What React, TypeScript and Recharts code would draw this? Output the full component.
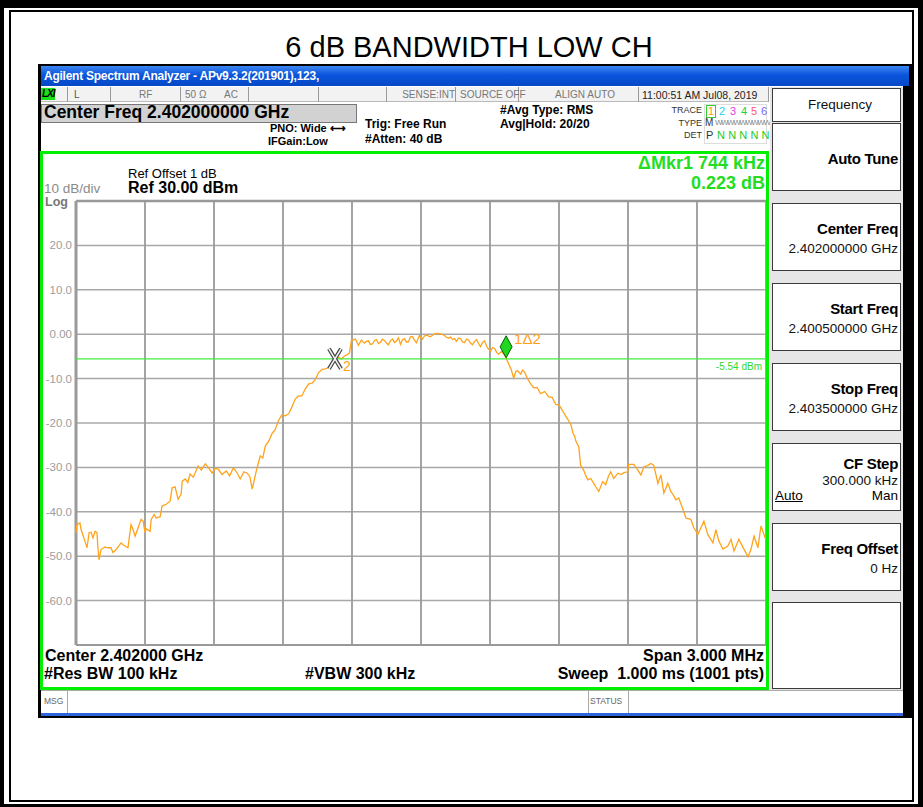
import React from 'react';
import { LineChart, Line, XAxis, YAxis, CartesianGrid, ReferenceLine, ReferenceDot } from 'recharts';

// trace: offset from start freq (kHz) and level (dBm)
const freqKHz = [
  0, 4, 17, 22, 39, 48, 57, 65, 74, 83, 91, 96, 100, 109, 126, 139, 152, 161, 174, 196,
  205, 213, 226, 239, 248, 257, 270, 283, 292, 300, 305, 322, 327, 340, 348, 366, 374, 392, 409, 418,
  431, 435, 444, 457, 462, 475, 486, 496, 510, 531, 545, 562, 575, 592, 605, 618, 635, 653, 668, 684,
  700, 714, 730, 745, 756, 766, 784, 801, 812, 823, 838, 853, 866, 880, 895, 910, 925, 940, 953, 967,
  982, 997, 1012, 1028, 1041, 1054, 1070, 1084, 1100, 1115, 1126, 1141, 1154, 1167, 1180, 1189, 1197, 1206, 1215, 1228,
  1241, 1254, 1263, 1271, 1280, 1289, 1298, 1306, 1315, 1324, 1332, 1341, 1350, 1358, 1367, 1376, 1385, 1393, 1402, 1411,
  1420, 1428, 1437, 1446, 1454, 1463, 1472, 1480, 1493, 1506, 1515, 1524, 1541, 1559, 1572, 1585, 1602, 1611, 1620, 1628,
  1637, 1646, 1654, 1663, 1672, 1680, 1689, 1698, 1707, 1715, 1724, 1733, 1742, 1750, 1759, 1767, 1776, 1789, 1803, 1811,
  1820, 1829, 1837, 1850, 1859, 1870, 1881, 1892, 1903, 1912, 1920, 1933, 1942, 1951, 1964, 1977, 1990, 2005, 2020, 2038,
  2055, 2070, 2086, 2100, 2116, 2130, 2142, 2152, 2160, 2168, 2173, 2186, 2194, 2207, 2216, 2225, 2238, 2251, 2259, 2273,
  2290, 2303, 2315, 2325, 2338, 2356, 2370, 2382, 2399, 2403, 2425, 2440, 2456, 2469, 2485, 2499, 2512, 2530, 2543, 2556,
  2573, 2586, 2598, 2608, 2621, 2639, 2652, 2673, 2686, 2704, 2717, 2730, 2747, 2769, 2782, 2795, 2813, 2834, 2848, 2861,
  2882, 2904, 2922, 2935, 2948, 2965, 2978, 2996, 3000,
];
const levelDb = [
  -44.7, -42.9, -42.5, -44.0, -46.6, -48.1, -44.7, -44.6, -45.9, -44.4, -44.7, -48.5, -50.8, -48.5, -47.9, -48.1, -48.1, -49.2, -48.5, -47.0,
  -47.4, -47.7, -48.1, -42.9, -44.0, -45.5, -43.6, -41.7, -42.1, -44.7, -43.8, -44.4, -41.7, -40.6, -41.4, -41.1, -38.7, -38.3, -37.6, -34.6,
  -34.4, -35.3, -37.2, -36.0, -33.1, -32.6, -33.4, -31.5, -32.2, -29.7, -30.6, -29.2, -30.0, -31.3, -30.2, -30.4, -31.6, -30.8, -31.9, -30.1,
  -31.2, -32.6, -31.0, -31.3, -32.1, -34.9, -30.8, -27.4, -27.9, -25.2, -24.1, -22.3, -21.5, -19.5, -18.2, -18.4, -17.9, -16.2, -14.6, -13.9,
  -13.9, -12.3, -11.2, -11.0, -10.2, -8.7, -7.9, -7.8, -7.5, -6.7, -5.5, -5.2, -5.6, -4.9, -4.6, -4.2, -1.5, -1.3, -1.1, -2.5,
  -1.3, -2.0, -1.6, -1.5, -2.3, -2.2, -1.4, -1.2, -2.1, -1.8, -1.1, -1.4, -2.0, -2.4, -1.5, -1.1, -1.9, -1.6, -0.8, -2.3,
  -1.2, -1.0, -1.8, -1.7, -0.6, -0.5, -1.4, -1.9, -0.3, -1.1, -0.4, -0.2, -0.6, 0.1, 0.2, 0.1, -0.3, -0.7, -0.9, -0.6,
  -1.2, -1.0, -1.6, -0.9, -1.0, -1.7, -1.9, -1.1, -1.3, -2.0, -2.4, -1.6, -1.2, -2.1, -2.8, -1.9, -1.5, -3.1, -3.8, -3.0,
  -3.2, -4.1, -4.5, -3.9, -4.4, -5.3, -6.7, -7.9, -9.9, -8.4, -8.2, -9.0, -8.1, -8.6, -10.1, -11.2, -12.1, -12.0, -13.4, -12.9,
  -14.1, -14.2, -15.8, -15.9, -17.3, -18.5, -19.5, -20.4, -22.2, -23.0, -24.0, -25.4, -29.5, -30.6, -31.8, -32.8, -32.5, -33.6, -34.3, -35.4,
  -33.2, -33.9, -32.0, -31.0, -32.5, -31.3, -31.6, -31.2, -31.0, -29.3, -29.3, -30.4, -31.7, -29.9, -29.6, -29.1, -29.5, -33.6, -31.7, -35.8,
  -33.6, -35.4, -36.3, -37.3, -36.9, -39.5, -41.4, -41.7, -43.6, -45.1, -43.6, -42.1, -45.1, -47.0, -44.0, -46.6, -48.4, -47.7, -46.2, -48.8,
  -46.2, -48.4, -50.1, -48.4, -45.5, -48.1, -43.2, -45.8, -46.5,
];

const yTicks = [30, 20, 10, 0, -10, -20, -30, -40, -50, -60, -70];
const xTicks = [0, 300, 600, 900, 1200, 1500, 1800, 2100, 2400, 2700, 3000];
const displayLineDb = -5.54;
const marker2 = { f: 1126, db: -5.54 };
const marker1 = { f: 1870, db: -5.32 };

const softkeyTitles = ['Auto Tune', 'Center Freq', 'Start Freq', 'Stop Freq', 'CF Step', 'Freq Offset'];
const softkeyValues = ['', '2.402000000 GHz', '2.400500000 GHz', '2.403500000 GHz', '300.000 kHz', '0 Hz'];

const trace = freqKHz.map((f, i) => ({ f, db: levelDb[i] }));

const W = 923;
const H = 807;
const FONT = '"Liberation Sans", Arial, sans-serif';

function T({ x, y, s = 12, b = false, c = '#000', a = 'left', children, style }: any) {
  const st: React.CSSProperties = {
    position: 'absolute',
    top: y - 0.49 * s,
    fontSize: s,
    fontWeight: b ? 700 : 400,
    color: c,
    lineHeight: 1,
    whiteSpace: 'pre',
    fontFamily: FONT,
    ...style,
  };
  if (a === 'right') st.right = W - x;
  else if (a === 'center') {
    st.left = x;
    st.transform = 'translateX(-50%)';
  } else st.left = x;
  return <div style={st}>{children}</div>;
}

const fmtTick = (v: number) => {
  if (v === 30 || v === -70) return '';
  if (v === 0) return '0.00';
  return v.toFixed(1);
};

const XMark = ({ cx, cy }: any) => {
  const d = `M${cx - 6},${cy - 10} L${cx + 6},${cy + 10} M${cx + 6},${cy - 10} L${cx - 6},${cy + 10}`;
  return (
    <g>
      <path d={d} stroke="#444" strokeWidth={4} fill="none" />
      <path d={d} stroke="#f4f4f4" strokeWidth={1.6} fill="none" />
      <text x={cx + 8} y={cy + 12} fill="#ff9f1a" fontSize={14} fontFamily={FONT}>2</text>
    </g>
  );
};

const DiamondMark = ({ cx, cy }: any) => (
  <g>
    <path
      d={`M${cx},${cy} L${cx - 6},${cy - 11} L${cx},${cy - 22} L${cx + 6},${cy - 11} Z`}
      fill="#1fd81f"
      stroke="#0b5e0b"
      strokeWidth={1}
    />
    <text x={cx + 8} y={cy - 14} fill="#ff9f1a" fontSize={15} fontFamily={FONT}>1Δ2</text>
  </g>
);

function Softkey({ top, height, children }: any) {
  return (
    <div
      style={{
        position: 'absolute',
        left: 772,
        top,
        width: 129,
        height,
        background: '#fff',
        border: '1.5px solid #3a3a3a',
        boxSizing: 'border-box',
      }}
    >
      {children}
    </div>
  );
}

export default function App() {
  const cell = (l: number, r: number) => (
    <div style={{ position: 'absolute', left: l, top: 87, width: r - l, height: 15, borderRight: '1px solid #9a9a9a', boxSizing: 'border-box' }} />
  );
  return (
    <div style={{ position: 'absolute', left: 0, top: 0, width: W, height: H, background: '#fff', overflow: 'hidden', fontFamily: FONT }}>
      {/* outer frame */}
      <div style={{ position: 'absolute', left: 0, top: 0, width: W, height: H, borderStyle: 'solid', borderColor: '#000', borderWidth: '8px 5px 3px 4px', boxSizing: 'border-box' }} />
      <div style={{ position: 'absolute', left: 9, top: 10, right: 9, bottom: 5, border: '2px solid #000' }} />

      <T x={469} y={47} s={29} a="center">6 dB BANDWIDTH LOW CH</T>

      {/* analyzer window */}
      <div style={{ position: 'absolute', left: 38, top: 64, width: 874, height: 654, background: '#000' }} />
      <div style={{ position: 'absolute', left: 41, top: 86, width: 862, height: 630, background: '#fff' }} />
      <div style={{ position: 'absolute', left: 41, top: 66, width: 868, height: 20, background: 'linear-gradient(#3d86f2, #0a55dc 45%, #0648c6)' }} />
      <T x={44} y={76} s={12} b c="#fff" style={{ letterSpacing: -0.25 }}>Agilent Spectrum Analyzer - APv9.3.2(201901),123,</T>

      {/* status row */}
      <div style={{ position: 'absolute', left: 41, top: 87, width: 728, height: 15, background: '#f2f2f2', borderBottom: '1px solid #bbb', boxSizing: 'border-box' }} />
      {cell(41, 68)}
      {cell(68, 111)}
      {cell(111, 181)}
      {cell(181, 249)}
      {cell(249, 319)}
      {cell(319, 387)}
      {cell(387, 456)}
      {cell(456, 519)}
      {cell(519, 639)}
      {cell(639, 769)}
      <div style={{ position: 'absolute', left: 41, top: 88, width: 14, height: 12, background: '#19e019' }} />
      <T x={42} y={94} s={10} b style={{ fontStyle: 'italic', letterSpacing: -1 }}>LXI</T>
      <T x={74} y={95} s={10} c="#555">L</T>
      <T x={139} y={95} s={10} c="#777">RF</T>
      <T x={185} y={95} s={10} c="#777">50 Ω</T>
      <T x={224} y={95} s={10} c="#777">AC</T>
      <T x={455} y={95} s={10} c="#777" a="right">SENSE:INT</T>
      <T x={460} y={95} s={10} c="#777">SOURCE OFF</T>
      <T x={585} y={95} s={10} c="#777" a="center">ALIGN AUTO</T>
      <T x={642} y={95} s={10.5} c="#222">11:00:51 AM Jul08, 2019</T>

      {/* settings */}
      <div style={{ position: 'absolute', left: 41, top: 104, width: 316, height: 19, background: '#d2d2d2', border: '1px solid #777', boxSizing: 'border-box' }} />
      <T x={44} y={113} s={17.5} b>Center Freq 2.402000000 GHz</T>
      <T x={270} y={128} s={11} b>PNO: Wide ⟷</T>
      <T x={268} y={141} s={11} b>IFGain:Low</T>
      <T x={365} y={124} s={12} b>Trig: Free Run</T>
      <T x={365} y={139} s={12} b>#Atten: 40 dB</T>
      <T x={500} y={110} s={12} b>#Avg Type: RMS</T>
      <T x={500} y={124} s={12} b>Avg|Hold: 20/20</T>

      <div style={{ position: 'absolute', left: 704, top: 104, width: 63, height: 40, border: '1px solid #ddd', boxSizing: 'border-box' }} />
      <div style={{ position: 'absolute', left: 706, top: 105, width: 10, height: 13, border: '1px solid #3c3', boxSizing: 'border-box' }} />
      <T x={702} y={110} s={9} c="#333" a="right">TRACE</T>
      <T x={708} y={111} s={11} c="#ff9900">1</T>
      <T x={719} y={111} s={11} c="#22d3ee">2</T>
      <T x={730} y={111} s={11} c="#e040e0">3</T>
      <T x={741} y={111} s={11} c="#22cc44">4</T>
      <T x={751} y={111} s={11} c="#ff5577">5</T>
      <T x={761} y={111} s={11} c="#7766ff">6</T>
      <T x={702} y={123} s={9} c="#333" a="right">TYPE</T>
      <T x={705} y={123} s={10} c="#333">M</T>
      <T x={715} y={123} s={8} c="#888" style={{ letterSpacing: -1.5 }}>WWWWWWWWW</T>
      <T x={702} y={135} s={9} c="#333" a="right">DET</T>
      <T x={706} y={135} s={11} c="#333">P</T>
      <T x={717} y={135} s={11} c="#22cc22" style={{ letterSpacing: 3.2 }}>NNNNN</T>

      {/* graticule chart */}
      <div style={{ position: 'absolute', left: 40, top: 191 }}>
        <LineChart width={728} height={464} data={trace} margin={{ top: 10, right: 2, bottom: 10, left: 0 }}>
          <CartesianGrid stroke="#a8a8a8" strokeWidth={1.5} vertical={false} />
          <XAxis
            type="number"
            dataKey="f"
            domain={[0, 3000]}
            ticks={xTicks}
            tick={false}
            axisLine={false}
            tickLine={false}
            height={0}
          />
          <YAxis
            type="number"
            domain={[-70, 30]}
            ticks={yTicks}
            interval={0}
            width={36}
            tickSize={0}
            tickMargin={4}
            axisLine={false}
            tickFormatter={fmtTick}
            tick={{ fill: '#9c9c9c', fontSize: 11.5, fontFamily: FONT }}
          />
          {xTicks.map((t) => (
            <ReferenceLine key={t} x={t} stroke="#9a9a9a" strokeWidth={t === 0 ? 3 : 1.8} />
          ))}
          <ReferenceLine y={30} stroke="#999" strokeWidth={2.5} />
          <ReferenceLine y={-70} stroke="#999" strokeWidth={2} />
          <Line type="linear" dataKey="db" stroke="#ffa31a" strokeWidth={1.3} dot={false} isAnimationActive={false} />
          <ReferenceLine
            y={displayLineDb}
            stroke="#40ee40"
            strokeWidth={1.2}
            label={{ value: '-5.54 dBm', position: 'insideTopRight', fill: '#2fd82f', fontSize: 10, fontFamily: FONT, offset: 4 }}
          />
          <ReferenceDot x={marker2.f} y={marker2.db} shape={XMark} />
          <ReferenceDot x={marker1.f} y={marker1.db} shape={DiamondMark} />
        </LineChart>
      </div>

      {/* graticule frame */}
      <div style={{ position: 'absolute', left: 40, top: 151, width: 729, height: 539, border: '3px solid #00f000', boxSizing: 'border-box', pointerEvents: 'none' }} />
      <T x={128} y={173} s={13}>Ref Offset 1 dB</T>
      <T x={128} y={188} s={16} b>Ref 30.00 dBm</T>
      <T x={44} y={189} s={13.5} c="#8a8a8a">10 dB/div</T>
      <T x={45} y={202} s={12.5} c="#777" b>Log</T>
      <T x={765} y={163} s={18} b c="#22dd22" a="right">ΔMkr1 744 kHz</T>
      <T x={765} y={183} s={18} b c="#22dd22" a="right">0.223 dB</T>

      <T x={45} y={656} s={16} b>Center 2.402000 GHz</T>
      <T x={44} y={674} s={16} b>#Res BW 100 kHz</T>
      <T x={305} y={674} s={16} b>#VBW 300 kHz</T>
      <T x={764} y={656} s={16} b a="right">Span 3.000 MHz</T>
      <T x={764} y={674} s={16} b a="right">Sweep  1.000 ms (1001 pts)</T>

      {/* message bar */}
      <div style={{ position: 'absolute', left: 41, top: 690, width: 862, height: 23, background: '#fff', borderTop: '1px solid #aaa', boxSizing: 'border-box' }} />
      <div style={{ position: 'absolute', left: 67, top: 690, width: 1, height: 23, background: '#aaa' }} />
      <div style={{ position: 'absolute', left: 588, top: 690, width: 1, height: 23, background: '#aaa' }} />
      <div style={{ position: 'absolute', left: 628, top: 690, width: 1, height: 23, background: '#aaa' }} />
      <T x={44} y={701} s={8.5} c="#666">MSG</T>
      <T x={590} y={701} s={8.5} c="#666">STATUS</T>
      <div style={{ position: 'absolute', left: 41, top: 713, width: 862, height: 3, background: '#2d66d8' }} />

      {/* softkey panel */}
      <div style={{ position: 'absolute', left: 770, top: 87, width: 133, height: 603, background: '#e6e6e6' }} />
      <Softkey top={88} height={34}>
        <T x={67} y={16} s={13.5} a="center" c="#111" style={{ position: 'absolute' }}>
          Frequency
        </T>
      </Softkey>
      {softkeyTitles.map((title, i) => {
        const top = 123 + i * 80;
        const single = softkeyValues[i] === '';
        const cf = title === 'CF Step';
        return (
          <Softkey key={title} top={top} height={68}>
            <div style={{ position: 'absolute', right: 2, top: (single ? 34 : cf ? 19 : 24) - 7.5, fontSize: 15, fontWeight: 700, lineHeight: 1, whiteSpace: 'nowrap', letterSpacing: -0.3 }}>
              {title}
            </div>
            {!single && (
              <div style={{ position: 'absolute', right: 2, top: (cf ? 37 : 45) - 6.6, fontSize: 13.5, lineHeight: 1, whiteSpace: 'nowrap', color: '#111' }}>
                {softkeyValues[i]}
              </div>
            )}
            {cf && (
              <>
                <div style={{ position: 'absolute', left: 2, top: 52 - 6.6, fontSize: 13.5, lineHeight: 1, textDecoration: 'underline' }}>Auto</div>
                <div style={{ position: 'absolute', right: 2, top: 52 - 6.6, fontSize: 13.5, lineHeight: 1 }}>Man</div>
              </>
            )}
          </Softkey>
        );
      })}
      <Softkey top={602} height={87} />
    </div>
  );
}
